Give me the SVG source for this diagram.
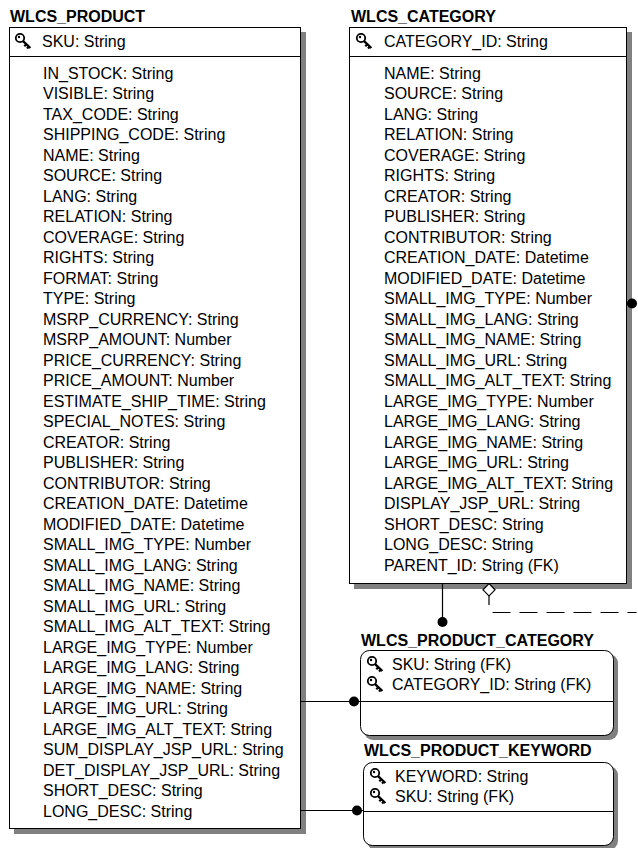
<svg xmlns="http://www.w3.org/2000/svg" width="638" height="848" viewBox="0 0 638 848">
<style>
  text { font-family: "Liberation Sans", Arial, sans-serif; font-size: 16px; fill: #000; }
  .hdr { font-weight: bold; }
  .box { fill: #fff; stroke: #000; stroke-width: 1; }
  .sep { stroke: #000; stroke-width: 1; }
  .shd { fill: #808080; }
  .conn { stroke: #000; stroke-width: 1.2; fill: none; }
  .dot { fill: #000; }
</style>
<defs>
  <g id="key">
    <circle cx="5" cy="5" r="4.2" fill="#fff" stroke="#000" stroke-width="1.8"/>
    <circle cx="4" cy="4" r="1.2" fill="#000"/>
    <path d="M7.8 7.8 L15.4 15 M11.4 11.2 L9.3 13.3 M13.9 13.6 L12 15.5" stroke="#000" stroke-width="2.3" fill="none"/>
  </g>
</defs>
<rect width="638" height="848" fill="#fff"/>

<g id="WLCS_PRODUCT">
  <rect class="shd" x="14" y="32" width="292" height="802"/>
  <rect class="box" x="9.5" y="27.5" width="291" height="801"/>
  <line class="sep" x1="9.5" y1="56.5" x2="300.5" y2="56.5"/>
  <text class="hdr" x="10" y="21.5">WLCS_PRODUCT</text>
  <use href="#key" x="15" y="33"/>
  <text x="42" y="47">SKU: String</text>
  <text x="43" y="78.5">
    <tspan x="43" dy="0">IN_STOCK: String</tspan>
    <tspan x="43" dy="20.5">VISIBLE: String</tspan>
    <tspan x="43" dy="20.5">TAX_CODE: String</tspan>
    <tspan x="43" dy="20.5">SHIPPING_CODE: String</tspan>
    <tspan x="43" dy="20.5">NAME: String</tspan>
    <tspan x="43" dy="20.5">SOURCE: String</tspan>
    <tspan x="43" dy="20.5">LANG: String</tspan>
    <tspan x="43" dy="20.5">RELATION: String</tspan>
    <tspan x="43" dy="20.5">COVERAGE: String</tspan>
    <tspan x="43" dy="20.5">RIGHTS: String</tspan>
    <tspan x="43" dy="20.5">FORMAT: String</tspan>
    <tspan x="43" dy="20.5">TYPE: String</tspan>
    <tspan x="43" dy="20.5">MSRP_CURRENCY: String</tspan>
    <tspan x="43" dy="20.5">MSRP_AMOUNT: Number</tspan>
    <tspan x="43" dy="20.5">PRICE_CURRENCY: String</tspan>
    <tspan x="43" dy="20.5">PRICE_AMOUNT: Number</tspan>
    <tspan x="43" dy="20.5">ESTIMATE_SHIP_TIME: String</tspan>
    <tspan x="43" dy="20.5">SPECIAL_NOTES: String</tspan>
    <tspan x="43" dy="20.5">CREATOR: String</tspan>
    <tspan x="43" dy="20.5">PUBLISHER: String</tspan>
    <tspan x="43" dy="20.5">CONTRIBUTOR: String</tspan>
    <tspan x="43" dy="20.5">CREATION_DATE: Datetime</tspan>
    <tspan x="43" dy="20.5">MODIFIED_DATE: Datetime</tspan>
    <tspan x="43" dy="20.5">SMALL_IMG_TYPE: Number</tspan>
    <tspan x="43" dy="20.5">SMALL_IMG_LANG: String</tspan>
    <tspan x="43" dy="20.5">SMALL_IMG_NAME: String</tspan>
    <tspan x="43" dy="20.5">SMALL_IMG_URL: String</tspan>
    <tspan x="43" dy="20.5">SMALL_IMG_ALT_TEXT: String</tspan>
    <tspan x="43" dy="20.5">LARGE_IMG_TYPE: Number</tspan>
    <tspan x="43" dy="20.5">LARGE_IMG_LANG: String</tspan>
    <tspan x="43" dy="20.5">LARGE_IMG_NAME: String</tspan>
    <tspan x="43" dy="20.5">LARGE_IMG_URL: String</tspan>
    <tspan x="43" dy="20.5">LARGE_IMG_ALT_TEXT: String</tspan>
    <tspan x="43" dy="20.5">SUM_DISPLAY_JSP_URL: String</tspan>
    <tspan x="43" dy="20.5">DET_DISPLAY_JSP_URL: String</tspan>
    <tspan x="43" dy="20.5">SHORT_DESC: String</tspan>
    <tspan x="43" dy="20.5">LONG_DESC: String</tspan>
  </text>
</g>

<g id="WLCS_CATEGORY">
  <rect class="shd" x="354" y="32" width="278" height="557"/>
  <rect class="box" x="349.5" y="27.5" width="277" height="556"/>
  <line class="sep" x1="349.5" y1="56.5" x2="626.5" y2="56.5"/>
  <text class="hdr" x="351" y="21.5">WLCS_CATEGORY</text>
  <use href="#key" x="356" y="33"/>
  <text x="384" y="47">CATEGORY_ID: String</text>
  <text x="384" y="78.5">
    <tspan x="384" dy="0">NAME: String</tspan>
    <tspan x="384" dy="20.5">SOURCE: String</tspan>
    <tspan x="384" dy="20.5">LANG: String</tspan>
    <tspan x="384" dy="20.5">RELATION: String</tspan>
    <tspan x="384" dy="20.5">COVERAGE: String</tspan>
    <tspan x="384" dy="20.5">RIGHTS: String</tspan>
    <tspan x="384" dy="20.5">CREATOR: String</tspan>
    <tspan x="384" dy="20.5">PUBLISHER: String</tspan>
    <tspan x="384" dy="20.5">CONTRIBUTOR: String</tspan>
    <tspan x="384" dy="20.5">CREATION_DATE: Datetime</tspan>
    <tspan x="384" dy="20.5">MODIFIED_DATE: Datetime</tspan>
    <tspan x="384" dy="20.5">SMALL_IMG_TYPE: Number</tspan>
    <tspan x="384" dy="20.5">SMALL_IMG_LANG: String</tspan>
    <tspan x="384" dy="20.5">SMALL_IMG_NAME: String</tspan>
    <tspan x="384" dy="20.5">SMALL_IMG_URL: String</tspan>
    <tspan x="384" dy="20.5">SMALL_IMG_ALT_TEXT: String</tspan>
    <tspan x="384" dy="20.5">LARGE_IMG_TYPE: Number</tspan>
    <tspan x="384" dy="20.5">LARGE_IMG_LANG: String</tspan>
    <tspan x="384" dy="20.5">LARGE_IMG_NAME: String</tspan>
    <tspan x="384" dy="20.5">LARGE_IMG_URL: String</tspan>
    <tspan x="384" dy="20.5">LARGE_IMG_ALT_TEXT: String</tspan>
    <tspan x="384" dy="20.5">DISPLAY_JSP_URL: String</tspan>
    <tspan x="384" dy="20.5">SHORT_DESC: String</tspan>
    <tspan x="384" dy="20.5">LONG_DESC: String</tspan>
    <tspan x="384" dy="20.5">PARENT_ID: String (FK)</tspan>
  </text>
</g>

<g id="WLCS_PRODUCT_CATEGORY">
  <rect class="shd" x="364" y="654" width="254" height="86" rx="9"/>
  <rect class="box" x="360.5" y="650.5" width="253" height="85" rx="9"/>
  <line class="sep" x1="360.5" y1="701.5" x2="613.5" y2="701.5"/>
  <text class="hdr" x="361" y="645.5">WLCS_PRODUCT_CATEGORY</text>
  <use href="#key" x="367" y="656"/>
  <text x="392" y="670">SKU: String (FK)</text>
  <use href="#key" x="367" y="676"/>
  <text x="392" y="690">CATEGORY_ID: String (FK)</text>
</g>

<g id="WLCS_PRODUCT_KEYWORD">
  <rect class="shd" x="367" y="766" width="251" height="84" rx="9"/>
  <rect class="box" x="363.5" y="762.5" width="250" height="83" rx="9"/>
  <line class="sep" x1="363.5" y1="811.5" x2="613.5" y2="811.5"/>
  <text class="hdr" x="364" y="755.5">WLCS_PRODUCT_KEYWORD</text>
  <use href="#key" x="370" y="768"/>
  <text x="395" y="782">KEYWORD: String</text>
  <use href="#key" x="370" y="788"/>
  <text x="395" y="802">SKU: String (FK)</text>
</g>

<g id="connectors">
  <line class="conn" x1="442.5" y1="583.5" x2="442.5" y2="622"/>
  <circle class="dot" cx="442.5" cy="622" r="5"/>
  <path class="conn" d="M489 596 V612.5 H638" stroke-dasharray="9 11 18 9 18 9 18 9 18 9 18 9"/>
  <polygon points="489,583.5 495,589.8 489,596 483,589.8" fill="#fff" stroke="#000" stroke-width="1.2"/>
  <line class="conn" x1="300.5" y1="701.5" x2="360.5" y2="701.5"/>
  <circle class="dot" cx="354" cy="701.5" r="5"/>
  <line class="conn" x1="300.5" y1="810.5" x2="363.5" y2="810.5"/>
  <circle class="dot" cx="357" cy="810.5" r="5"/>
  <circle class="dot" cx="632" cy="303.5" r="5"/>
</g>
</svg>
